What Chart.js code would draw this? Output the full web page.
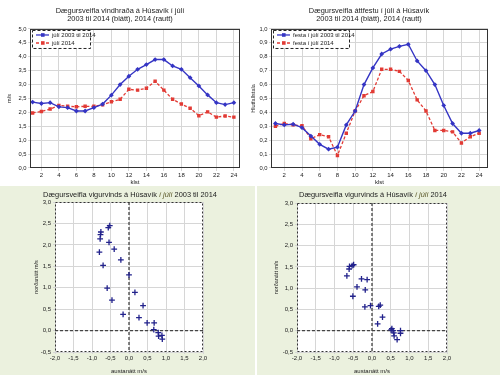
<!DOCTYPE html>
<html>
<head>
<meta charset="utf-8">
<script src="https://cdn.jsdelivr.net/npm/chart.js@4.4.1/dist/chart.umd.min.js"></script>
<style>
  body { margin: 0; width: 500px; height: 375px; background: #fff; position: relative; overflow: hidden; }
  .box { position: absolute; }
  .green { background: #ebf1de; }
</style>
</head>
<body>
<div class="box" style="left:0;top:0;width:250px;height:186px"><canvas id="c1"></canvas></div>
<div class="box" style="left:250px;top:0;width:250px;height:186px"><canvas id="c2"></canvas></div>
<div class="box green" style="left:0;top:186px;width:255px;height:189px"><canvas id="c3"></canvas></div>
<div class="box green" style="left:257px;top:186px;width:243px;height:189px"><canvas id="c4"></canvas></div>
<script>
// klukkustundir
var hours = [1, 2, 3, 4, 5, 6, 7, 8, 9, 10, 11, 12, 13, 14, 15, 16, 17, 18, 19, 20, 21, 22, 23, 24];
var hourTicks = [2, 4, 6, 8, 10, 12, 14, 16, 18, 20, 22, 24];

// vindhraði m/s
var windAll  = [2.37, 2.32, 2.35, 2.20, 2.17, 2.05, 2.05, 2.17, 2.30, 2.62, 3.00, 3.30, 3.55, 3.72, 3.90, 3.90, 3.67, 3.55, 3.25, 2.95, 2.63, 2.35, 2.28, 2.35];
var wind2014 = [1.98, 2.03, 2.12, 2.25, 2.22, 2.20, 2.22, 2.22, 2.27, 2.38, 2.47, 2.83, 2.80, 2.87, 3.12, 2.80, 2.47, 2.30, 2.15, 1.88, 2.02, 1.83, 1.87, 1.83];

// áttfesta
var steadyAll  = [0.32, 0.31, 0.315, 0.29, 0.23, 0.17, 0.135, 0.15, 0.31, 0.41, 0.60, 0.72, 0.82, 0.855, 0.875, 0.89, 0.77, 0.70, 0.60, 0.45, 0.32, 0.25, 0.25, 0.27];
var steady2014 = [0.30, 0.32, 0.31, 0.305, 0.21, 0.24, 0.225, 0.09, 0.25, 0.41, 0.52, 0.55, 0.71, 0.71, 0.695, 0.63, 0.49, 0.41, 0.27, 0.27, 0.26, 0.18, 0.225, 0.25];

// vigurvindur 2003-2014
var eastAll  = [-0.52, -0.56, -0.76, -0.77, -0.78, -0.54, -0.40, -0.80, -0.22, -0.70, 0.00, -0.59, 0.16, -0.46, 0.38, -0.16, 0.27, 0.49, 0.68, 0.67, 0.79, 0.80, 0.89, 0.90];
var northAll = [2.45, 2.40, 2.30, 2.24, 2.14, 2.06, 1.90, 1.83, 1.65, 1.52, 1.30, 0.99, 0.89, 0.71, 0.58, 0.38, 0.30, 0.18, 0.18, 0.02, -0.05, -0.13, -0.11, -0.20];

// vigurvindur 2014
var east2014  = [-0.60, -0.61, -0.53, -0.49, -0.67, -0.28, -0.13, -0.40, -0.18, -0.51, -0.19, -0.04, 0.18, 0.22, 0.15, 0.28, 0.53, 0.56, 0.58, 0.67, 0.76, 0.76, 0.51, 0.59];
var north2014 = [1.51, 1.45, 1.53, 1.55, 1.29, 1.22, 1.20, 1.03, 0.96, 0.81, 0.56, 0.59, 0.57, 0.60, 0.16, 0.32, 0.05, 0.00, -0.05, -0.21, 0.00, -0.06, 0.02, -0.12];

var FONT = "'Liberation Sans', Arial, sans-serif";
var BLUE = '#3535c4';
var RED = '#e23b35';
var NAVY = '#22228c';
var GRID = '#d6d6d6';

Chart.defaults.font.family = FONT;
Chart.defaults.color = '#222';
Chart.defaults.animation = false;

function comma(v, d) {
    return v.toFixed(d).replace('.', ',');
}

function pairs(xs, ys) {
    var out = [];
    for (var i = 0; i < xs.length; i++) {
        out.push({ x: xs[i], y: ys[i] });
    }
    return out;
}

// rammi, hvítur bakgrunnur, núlllínur, titill og skýringar
var decor = {
    id: 'decor',
    beforeDraw: function (chart) {
        var o = chart.options.plugins.decor || {};
        var a = chart.chartArea, ctx = chart.ctx;
        if (o.plotBg) {
            ctx.save();
            ctx.fillStyle = o.plotBg;
            ctx.fillRect(a.left, a.top, a.right - a.left, a.bottom - a.top);
            ctx.restore();
        }
    },
    beforeDatasetsDraw: function (chart) {
        var o = chart.options.plugins.decor || {};
        if (!o.zeroLines) return;
        var a = chart.chartArea, ctx = chart.ctx;
        var x0 = chart.scales.x.getPixelForValue(0);
        var y0 = chart.scales.y.getPixelForValue(0);
        ctx.save();
        ctx.strokeStyle = '#444';
        ctx.lineWidth = 1.3;
        ctx.setLineDash([3, 2]);
        ctx.beginPath();
        ctx.moveTo(x0, a.top); ctx.lineTo(x0, a.bottom);
        ctx.moveTo(a.left, y0); ctx.lineTo(a.right, y0);
        ctx.stroke();
        ctx.restore();
    },
    afterDraw: function (chart) {
        var o = chart.options.plugins.decor || {};
        var a = chart.chartArea, ctx = chart.ctx;
        ctx.save();
        ctx.strokeStyle = '#333';
        ctx.lineWidth = 1;
        ctx.setLineDash(o.frameDash || []);
        ctx.strokeRect(a.left + 0.5, a.top + 0.5, a.right - a.left - 1, a.bottom - a.top - 1);
        ctx.restore();

        if (o.title) {
            // titill með skáletruðu "í júlí"
            ctx.save();
            ctx.textBaseline = 'middle';
            var parts = o.title;
            var total = 0;
            parts.forEach(function (p) {
                ctx.font = (p.italic ? 'italic ' : '') + '7.4px ' + FONT;
                p.w = ctx.measureText(p.t).width;
                total += p.w;
            });
            var x = o.titleX - total / 2;
            parts.forEach(function (p) {
                ctx.font = (p.italic ? 'italic ' : '') + '7.4px ' + FONT;
                ctx.fillStyle = p.color || '#222';
                ctx.fillText(p.t, x, o.titleY);
                x += p.w;
            });
            ctx.restore();
        }

        if (o.legendW) {
            var lx = a.left + 2, ly = a.top + 1, lw = o.legendW, lh = 18;
            ctx.save();
            ctx.fillStyle = '#fff';
            ctx.fillRect(lx, ly, lw, lh);
            ctx.strokeStyle = '#222';
            ctx.lineWidth = 1;
            ctx.setLineDash([3, 2]);
            ctx.strokeRect(lx + 0.5, ly + 0.5, lw, lh);
            chart.data.datasets.forEach(function (ds, i) {
                var yy = ly + 5 + i * 8;
                ctx.setLineDash(ds.borderDash || []);
                ctx.strokeStyle = ds.borderColor;
                ctx.lineWidth = 1.3;
                ctx.beginPath();
                ctx.moveTo(lx + 4, yy); ctx.lineTo(lx + 17, yy);
                ctx.stroke();
                ctx.setLineDash([]);
                ctx.fillStyle = ds.borderColor;
                ctx.fillRect(lx + 9, yy - 1.8, 3.6, 3.6);
                ctx.fillStyle = '#222';
                ctx.font = '6px ' + FONT;
                ctx.textBaseline = 'middle';
                ctx.fillText(ds.label, lx + 20, yy);
            });
            ctx.restore();
        }
    }
};
Chart.register(decor);

function lineChart(id, titleLines, yTitle, yTitlePad, labels, blue, red, ymax, ystep, ydec, yWidth, xmin, xmax, padRight, legendW) {
    new Chart(document.getElementById(id), {
        type: 'line',
        data: {
            datasets: [
                {
                    label: labels[0],
                    data: pairs(hours, blue),
                    borderColor: BLUE,
                    backgroundColor: BLUE,
                    borderWidth: 1.4,
                    pointRadius: 1.4,
                    pointStyle: 'rectRot',
                    tension: 0
                },
                {
                    label: labels[1],
                    data: pairs(hours, red),
                    borderColor: RED,
                    backgroundColor: RED,
                    borderWidth: 1.3,
                    borderDash: [3, 2],
                    pointRadius: 1.5,
                    pointStyle: 'rect',
                    tension: 0
                }
            ]
        },
        options: {
            responsive: true,
            maintainAspectRatio: false,
            layout: { padding: { right: padRight } },
            plugins: {
                legend: { display: false },
                tooltip: { enabled: false },
                title: {
                    display: true,
                    text: titleLines,
                    font: { size: 7.4, weight: 'normal', lineHeight: 1.1 },
                    color: '#222',
                    padding: { top: 7, bottom: 5.7 }
                },
                decor: { legendW: legendW }
            },
            scales: {
                x: {
                    type: 'linear',
                    min: xmin,
                    max: xmax,
                    afterBuildTicks: function (s) { s.ticks = hourTicks.map(function (v) { return { value: v }; }); },
                    afterFit: function (s) { s.height = 18; },
                    grid: { color: GRID, tickLength: 3 },
                    border: { display: false },
                    ticks: { font: { size: 6 }, padding: 1, maxRotation: 0, autoSkip: false },
                    title: { display: true, text: 'klst', font: { size: 6 }, padding: { top: 1, bottom: 0 } }
                },
                y: {
                    min: 0,
                    max: ymax,
                    afterFit: function (s) { s.width = yWidth; },
                    grid: { color: GRID, tickLength: 2 },
                    border: { display: false },
                    ticks: {
                        stepSize: ystep,
                        font: { size: 5.8 },
                        padding: 1.5,
                        callback: function (v) { return comma(v, ydec); }
                    },
                    title: { display: true, text: yTitle, font: { size: 5.5 }, padding: { top: yTitlePad, bottom: 0 } }
                }
            }
        }
    });
}

function vectorChart(id, east, north, titleParts, titleX, yWidth, yTitlePad, padRight, padTop) {
    new Chart(document.getElementById(id), {
        type: 'scatter',
        data: {
            datasets: [{
                data: pairs(east, north),
                pointStyle: 'cross',
                pointRadius: 2.9,
                borderColor: NAVY,
                borderWidth: 1.3,
                backgroundColor: NAVY
            }]
        },
        options: {
            responsive: true,
            maintainAspectRatio: false,
            layout: { padding: { top: padTop, right: padRight } },
            plugins: {
                legend: { display: false },
                tooltip: { enabled: false },
                decor: { plotBg: '#fff', zeroLines: true, frameDash: [2, 2], title: titleParts, titleX: titleX, titleY: 9 }
            },
            scales: {
                x: {
                    min: -2,
                    max: 2,
                    afterFit: function (s) { s.height = 23; },
                    grid: { color: GRID, tickLength: 2 },
                    border: { display: false },
                    ticks: { stepSize: 0.5, font: { size: 6 }, padding: 1, maxRotation: 0, autoSkip: false,
                             callback: function (v) { return comma(v, 1); } },
                    title: { display: true, text: 'austanátt m/s', font: { size: 6 }, padding: { top: 3, bottom: 0 } }
                },
                y: {
                    min: -0.5,
                    max: 3,
                    afterFit: function (s) { s.width = yWidth; },
                    grid: { color: GRID, tickLength: 2 },
                    border: { display: false },
                    ticks: { stepSize: 0.5, font: { size: 6 }, padding: 2,
                             callback: function (v) { return comma(v, 1); } },
                    title: { display: true, text: 'norðanátt m/s', font: { size: 5.5 }, padding: { top: yTitlePad, bottom: 0 } }
                }
            }
        }
    });
}

lineChart('c1',
    ['Dægursveifla vindhraða á Húsavík í júlí', '2003 til 2014 (blátt), 2014 (rautt)'],
    'm/s', 6, ['júlí 2003 til 2014', 'júlí 2014'],
    windAll, wind2014, 5, 0.5, 1, 30, 0.7, 24.7, 10, 58);

lineChart('c2',
    ['Dægursveifla áttfestu í júlí á Húsavík', '2003 til 2014 (blátt), 2014 (rautt)'],
    'Hlutfallstala', 0.5, ['festa í júlí 2003 til 2014', 'festa í júlí 2014'],
    steadyAll, steady2014, 1, 0.1, 1, 21, 0.5, 25, 12, 76);

vectorChart('c3', eastAll, northAll,
    [{ t: 'Dægursveifla vigurvinds á Húsavík ' }, { t: 'í júlí', italic: true, color: '#5c5a2a' }, { t: ' 2003 til 2014' }],
    130, 55, 33, 52, 16);

vectorChart('c4', east2014, north2014,
    [{ t: 'Dægursveifla vigurvinds á Húsavík ' }, { t: 'í júlí', italic: true, color: '#5c5a2a' }, { t: ' 2014' }],
    116, 40, 16, 53, 17);
</script>
</body>
</html>
